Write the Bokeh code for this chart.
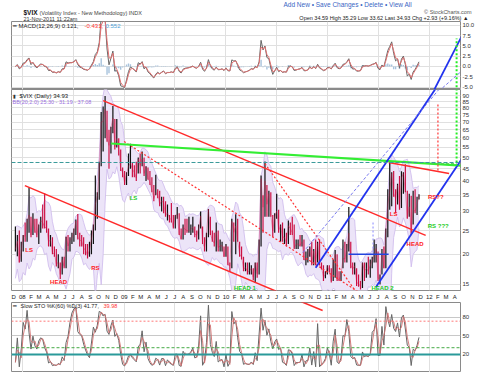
import numpy as np
import pandas as pd
from bokeh.plotting import figure
from bokeh.layouts import column
from bokeh.models import Range1d, FixedTicker, Label, Span, Grid
from bokeh.embed import file_html
from bokeh.resources import INLINE

# ---------------- weekly $VIX values (week ending Fridays) ----------------
first_week = "2007-12-07"
vix_high = [
    26.0, 24.0, 25.0, 22.5,
    24.0, 27.0, 28.0, 37.6, 28.5, 29.5, 28.0, 28.0, 26.5, 28.5, 32.0, 35.6, 27.5, 25.5, 24.0, 23.5, 21.5, 21.0, 20.0, 18.5,
    19.5, 19.5, 23.6, 24.0, 23.5, 24.5, 25.5, 27.8, 29.3, 24.5, 24.0, 23.5, 22.0, 22.0, 22.5, 25.0, 26.5, 42.2, 36.0, 48.0,
    76.9, 81.2, 89.5, 78.0, 65.0, 67.0, 81.5, 72.0, 72.0, 60.0, 54.0, 45.5,
    44.0, 43.5, 52.0, 57.0, 47.5, 46.5, 48.0, 50.0, 52.0, 53.0, 50.0, 46.0, 45.5, 44.0, 41.5, 38.5, 42.5, 37.0, 36.5, 34.5,
    34.5, 33.0, 32.0, 29.0, 32.5, 29.0, 29.0, 31.3, 29.5, 25.5, 26.5, 28.0, 28.0, 28.5, 26.5, 28.5, 26.0, 25.0, 26.5, 30.0,
    26.0, 23.5, 24.5, 30.7, 28.5, 25.0, 24.5, 27.0, 25.0, 23.0, 22.5, 21.5,
    22.0, 21.5, 18.5, 28.0, 27.0, 29.2, 28.0, 22.5, 21.5, 19.5, 18.5, 18.5, 18.5, 18.0, 17.5, 18.5, 18.5, 23.0, 42.2, 35.0,
    48.2, 38.5, 36.5, 36.0, 29.0, 29.5, 35.5, 30.5, 26.5, 27.0, 25.5, 24.5, 27.5, 27.0, 28.5, 26.5, 23.0, 23.0, 24.0, 24.0,
    23.0, 20.5, 21.0, 21.5, 22.5, 21.0, 23.0, 22.5, 23.0, 18.5, 18.0, 17.0, 18.0,
    18.0, 17.5, 19.0, 20.8, 20.0, 17.0, 17.0, 23.0, 22.5, 22.0, 31.3, 22.5, 18.5, 18.5, 17.5, 16.5, 15.5, 18.5, 18.5, 18.5,
    19.5, 19.0, 19.5, 23.0, 22.0, 20.5, 16.5, 21.0, 21.5, 25.5, 37.0, 48.0, 43.5, 44.0, 37.0, 39.0, 42.0, 43.9, 43.5, 46.9,
    36.5, 35.5, 34.8, 36.5, 37.0, 34.5, 35.3,
]
vix_low = [
    20.5, 19.6, 18.5, 18.6,
    20.5, 22.5, 22.5, 24.5, 23.5, 24.0, 24.5, 23.5, 22.0, 24.5, 25.5, 25.5, 24.5, 21.5, 21.5, 20.0, 19.5, 17.8, 17.5, 15.8,
    16.5, 17.5, 17.5, 20.5, 20.5, 22.0, 22.5, 24.0, 23.0, 21.5, 21.5, 20.0, 19.8, 19.2, 19.5, 20.0, 22.0, 25.0, 28.0, 33.5,
    46.0, 53.0, 60.0, 58.0, 45.0, 52.0, 63.0, 54.0, 55.0, 51.0, 44.0, 41.5,
    38.5, 38.5, 42.0, 45.0, 41.5, 41.5, 40.0, 43.0, 43.0, 46.0, 42.0, 40.0, 40.5, 38.5, 36.0, 33.0, 35.0, 34.0, 31.5, 30.0,
    29.5, 28.5, 27.5, 27.0, 27.0, 25.5, 25.5, 28.0, 24.0, 23.0, 23.0, 24.0, 24.5, 24.5, 24.0, 24.5, 23.5, 22.5, 23.0, 25.5,
    22.0, 20.5, 20.5, 23.5, 24.0, 22.5, 21.5, 20.5, 20.5, 20.5, 20.5, 19.5,
    19.5, 18.0, 16.9, 17.5, 22.5, 20.0, 22.5, 19.5, 19.0, 17.0, 17.0, 16.5, 16.5, 16.5, 15.6, 15.2, 16.0, 16.5, 21.5, 24.5,
    28.5, 28.5, 28.5, 28.5, 23.5, 24.5, 28.0, 24.5, 22.5, 22.5, 22.0, 21.5, 22.0, 24.0, 24.0, 21.0, 21.0, 21.0, 21.5, 21.5,
    18.9, 18.0, 18.5, 19.5, 18.0, 18.0, 18.0, 18.5, 18.0, 17.3, 15.5, 15.9, 16.5,
    16.8, 15.3, 15.5, 16.0, 15.5, 15.5, 15.5, 17.5, 18.5, 18.5, 20.5, 17.5, 16.5, 16.5, 14.8, 14.7, 14.3, 14.5, 15.5, 16.0,
    16.5, 16.0, 17.5, 18.5, 18.5, 15.5, 15.0, 16.5, 17.5, 17.5, 23.5, 30.5, 31.5, 34.5, 29.5, 32.0, 30.5, 31.0, 35.5, 36.0,
    28.0, 28.5, 24.0, 26.5, 29.5, 29.0, 33.6,
]
vix_close = [
    20.9, 22.6, 18.5, 20.7,
    23.9, 23.7, 27.2, 29.0, 24.0, 28.0, 25.0, 24.0, 26.5, 27.5, 27.0, 25.8, 25.7, 22.5, 22.9, 20.3, 20.0, 18.2, 18.5, 16.5,
    19.0, 17.8, 23.6, 21.6, 22.8, 23.4, 24.9, 27.4, 23.5, 22.9, 22.6, 21.2, 20.7, 19.8, 20.7, 23.1, 25.7, 32.1, 34.7, 45.1,
    69.9, 70.3, 79.1, 59.9, 56.1, 66.3, 72.7, 55.3, 59.9, 54.3, 44.9, 43.4,
    39.2, 42.8, 46.1, 47.3, 44.8, 43.4, 41.2, 49.3, 46.4, 49.3, 43.0, 45.9, 41.0, 39.7, 36.5, 33.9, 35.8, 35.3, 32.1, 33.1,
    32.6, 28.9, 29.6, 28.2, 27.7, 25.9, 29.0, 29.0, 24.3, 23.1, 25.9, 25.3, 25.0, 25.0, 25.3, 25.9, 24.2, 23.9, 25.6, 28.7,
    22.2, 21.4, 24.2, 30.7, 24.2, 22.9, 22.2, 24.7, 21.3, 21.6, 21.7, 19.5,
    21.7, 18.1, 17.9, 27.3, 24.6, 26.1, 22.7, 20.0, 19.5, 17.4, 17.6, 17.0, 17.0, 17.5, 16.1, 18.4, 16.6, 22.0, 40.9, 31.2,
    40.1, 32.1, 35.5, 28.8, 24.9, 28.5, 30.1, 25.0, 26.2, 23.5, 23.5, 22.1, 26.2, 25.5, 24.5, 21.3, 22.0, 22.0, 21.7, 22.5,
    18.9, 19.0, 19.1, 21.2, 18.3, 20.6, 18.0, 22.2, 18.0, 17.6, 16.1, 16.5, 17.8,
    17.1, 15.5, 18.5, 20.0, 15.9, 15.7, 16.4, 19.2, 19.1, 21.2, 24.4, 18.0, 17.4, 17.9, 15.3, 15.1, 14.75, 18.4, 17.1, 17.4,
    17.1, 17.95, 18.9, 19.5, 21.1, 15.9, 15.95, 20.0, 17.5, 25.25, 32.0, 36.4, 43.0, 35.6, 33.9, 38.5, 31.0, 41.25, 42.96, 36.2,
    28.2, 31.3, 24.5, 30.5, 30.0, 32.0, 34.93,
]

# ---------------- axes / ticks ----------------
x_start, x_end = "2007-11-23", "2012-04-22"
macd_ticks = [-5.0, -2.5, 0.0, 2.5, 5.0, 7.5, 10.0]
macd_tick_labels = ["-5.0", "-2.5", "0.0", "2.5", "5.0", "7.5", "10.0"]
price_ticks = [15, 20, 25, 30, 35, 40, 45, 50, 55, 60, 65, 70, 75, 80, 85, 90]
sto_ticks = [20, 50, 80]
month_letters = "JFMAMJJASOND"

# ---------------- hand-drawn annotation lines (date, value) ----------------
red_lower_x = ["2008-01-10", "2010-12-14"];   red_lower_y = [38.3, 11.7]
red_lower_tail_x = ["2010-09-27", "2010-12-14"]; red_lower_tail_y = [105.9, 91.3]
red_upper_x = ["2008-10-17", "2011-12-19"];   red_upper_y = [85.8, 23.9]
red_neck_x = ["2011-08-08", "2012-03-12"];    red_neck_y = [47.7, 43.0]
green_neck_x = ["2008-11-14", "2012-06-10"];  green_neck_y = [57.1, 45.9]
red_dot1_x = ["2008-12-31", "2011-04-25"];    red_dot1_y = [58.2, 13.9]
red_dot2_x = ["2010-05-21", "2011-04-13"];    red_dot2_y = [47.2, 14.0]
blue_up_x = ["2010-11-19", "2012-02-12"];     blue_up_y = [17.6, 103.7]
blue_lo_x = ["2011-06-23", "2012-06-17"];     blue_lo_y = [14.6, 60.4]
blue_thin_x = ["2010-10-04", "2012-03-05"];   blue_thin_y = [20.3, 104.7]
blue_flat_x = ["2011-03-17", "2011-08-08"];   blue_flat_y = [20.0, 20.0]
blue_vert_x = ["2011-06-13", "2011-06-13"];   blue_vert_y = [27.0, 20.0]
red_vert_x = ["2012-02-01", "2012-02-01"];    red_vert_y = [82.6, 43.8]
green_vert_x = ["2012-04-08", "2012-04-08"];  green_vert_y = [103.7, 46.3]
green_flat_x = ["2012-01-07", "2012-04-08"];  green_flat_y = [47.2, 47.2]
macd_blue_x = ["2012-01-10", "2012-04-30"];   macd_blue_y = [-6.8, 7.8]
macd_thin_x = ["2012-02-04", "2012-05-10"];   macd_thin_y = [-6.0, -0.3]
macd_green_x = ["2012-04-08", "2012-04-08"];  macd_green_y = [-6.0, 6.8]
teal_level = 47.7
sto_red_level, sto_green_level, sto_teal_level = 74, 31, 20

# ---------------- text annotations ----------------
red_tags = ["LS", "HEAD", "RS", "LS", "HEAD", "RS??"]
red_tag_x = ["2008-01-25", "2008-05-10", "2008-09-19", "2011-08-26", "2011-11-11", "2012-01-24"]
red_tag_y = [20.9, 15.3, 17.5, 29.4, 22.1, 34.5]
green_tags = ["LS", "HEAD 1", "HEAD 2", "RS ???"]
green_tag_x = ["2009-02-03", "2010-03-10", "2011-07-17", "2012-02-02"]
green_tag_y = [34.2, 14.45, 14.45, 26.0]

FONT = "Liberation Sans"


def ms(d):
    return pd.Timestamp(d).value / 1e6


def msl(lst):
    return [ms(d) for d in lst]


n = min(len(vix_high), len(vix_low), len(vix_close))
dates = pd.date_range(first_week, periods=n, freq="W-FRI")
xs = np.array([ms(d) for d in dates])
hi = np.array(vix_high[:n], float)
lo = np.array(vix_low[:n], float)
cl = np.array(vix_close[:n], float)
prev = np.r_[cl[0], cl[:-1]]
bar_colors = ["#111111" if c >= p_ else "#cc1144" for c, p_ in zip(cl, prev)]

# Bollinger-style envelope (4 weeks ~ 20 days, 2 sd)
bb_up, bb_dn = [], []
for i in range(n):
    j = max(0, i - 3)
    w = np.r_[hi[j:i + 1], lo[j:i + 1], cl[j:i + 1]]
    m = cl[j:i + 1].mean()
    s = max(w.std(), 0.08 * m)
    bb_up.append(m + 2 * s)
    bb_dn.append(max(m - 2 * s, 9.0))

# MACD (12,26,9 days -> weeks)
cs = pd.Series(cl)
macd = cs.ewm(span=2.4, adjust=False).mean() - cs.ewm(span=5.2, adjust=False).mean()
signal = macd.ewm(span=1.8, adjust=False).mean()
hist = macd - signal

# Slow stochastic (60 days ~ 12 weeks)
hh = pd.Series(hi).rolling(12, min_periods=1).max()
ll = pd.Series(lo).rolling(12, min_periods=1).min()
k_fast = 100 * (cs - ll) / (hh - ll)
d_line = k_fast.rolling(2, min_periods=1).mean()

month_starts = pd.date_range("2007-12-01", "2012-04-01", freq="MS")
month_ticks = [ms(d) for d in month_starts]
month_labels = {}
for d, t in zip(month_starts, month_ticks):
    month_labels[t] = f"{d.year % 100:02d}" if d.month == 1 else month_letters[d.month - 1]
grid_ticks = [ms(d) for d in month_starts if d.month in (1, 7)]

xr = Range1d(ms(x_start), ms(x_end))
FW = 449
LEFT = 11
GRID = "#e0e0e0"


def base_fig(frame_h, yr, log=False, xaxis=None):
    p = figure(frame_width=FW, frame_height=frame_h, x_range=xr, y_range=yr,
               y_axis_type="log" if log else "linear",
               x_axis_location=xaxis, y_axis_location="right",
               output_backend="svg", toolbar_location=None,
               min_border_left=LEFT, min_border_right=0, min_border_top=0, min_border_bottom=0,
               outline_line_color="#8a8a8a", border_fill_color="white")
    if len(p.xgrid) == 0:
        p.add_layout(Grid(dimension=0, ticker=FixedTicker(ticks=grid_ticks), grid_line_color=GRID))
    else:
        p.xgrid.ticker = FixedTicker(ticks=grid_ticks)
        p.xgrid.grid_line_color = GRID
    p.ygrid.grid_line_color = GRID
    ax = p.yaxis[0]
    ax.axis_line_color = None
    ax.major_tick_line_color = None
    ax.minor_tick_line_color = None
    ax.major_tick_out = 0
    ax.major_tick_in = 0
    ax.minor_tick_out = 0
    ax.major_label_text_font = FONT
    ax.major_label_text_font_size = "6px"
    ax.major_label_standoff = 2
    ax.major_label_text_color = "#333333"
    return p


def text(p, x, y, txt, color="#222222", size="6px", bold=False, units="data", align="left",
         baseline="middle"):
    p.add_layout(Label(x=x, y=y, x_units=units, y_units=units, text=txt, text_color=color,
                       text_font=FONT, text_font_size=size,
                       text_font_style="bold" if bold else "normal",
                       text_align=align, text_baseline=baseline))


# ================= header strip =================
ph = figure(frame_width=480, frame_height=21, x_range=Range1d(0, 480), y_range=Range1d(21, 0),
            x_axis_location=None, y_axis_location=None, output_backend="svg", toolbar_location=None,
            min_border_left=0, min_border_right=0, min_border_top=0, min_border_bottom=0,
            outline_line_color=None, border_fill_color="white")
ph.xgrid.visible = False
ph.ygrid.visible = False
text(ph, 272, 4, "Add New • Save Changes • Delete • View All", "#3a66c4", "6.5px")
text(ph, 12, 12, "$VIX", "#111111", "6.5px", True)
text(ph, 28, 12, "(Volatility Index - New Methodology) INDX", "#444444", "5.5px")
text(ph, 12, 18, "21-Nov-2011 11:22am", "#333333", "5.5px")
text(ph, 460, 11, "© StockCharts.com", "#555555", "5.5px", False, "data", "right")
text(ph, 463, 17.5, "Open 34.59  High 35.29  Low 33.62  Last 34.93  Chg +2.93 (+9.16%) ▲",
     "#222222", "5.5px", False, "data", "right")

# ================= MACD panel =================
p1 = base_fig(68, Range1d(-5.6, 10.9))
p1.yaxis[0].ticker = FixedTicker(ticks=macd_ticks)
p1.yaxis[0].major_label_overrides = {float(t): s for t, s in zip(macd_ticks, macd_tick_labels)}
p1.vbar(x=xs, top=hist.values, bottom=0, width=5 * 86400000, color="#a6c2dc", line_color=None)
p1.line(xs, macd.values, line_color="#666666", line_width=1)
p1.line(xs, signal.values, line_color="#e07070", line_width=1)
p1.line(msl(macd_blue_x), macd_blue_y, line_color="#2233ee", line_width=1.8)
p1.line(msl(macd_thin_x), macd_thin_y, line_color="#7777ee", line_width=1, line_dash="3 2")
p1.line(msl(macd_green_x), macd_green_y, line_color="#22ee22", line_width=2, line_dash="2 2")
text(p1, 1, 64, "━", "#222222", "6px", False, "screen")
text(p1, 7, 64, "MACD(12,26,9) 0.121,", "#222222", "6px", False, "screen")
text(p1, 73, 64, "-0.431,", "#ff3333", "6px", False, "screen")
text(p1, 94, 64, "0.552", "#4fa3d8", "6px", False, "screen")

# ================= Price panel =================
p2 = base_fig(201, Range1d(14.17, 95.3), log=True, xaxis="below")
p2.yaxis[0].ticker = FixedTicker(ticks=price_ticks)
p2.yaxis[0].major_label_overrides = {float(t): str(t) for t in price_ticks}
p2.ygrid.ticker = FixedTicker(ticks=price_ticks)
xa = p2.xaxis[0]
xa.ticker = FixedTicker(ticks=month_ticks)
xa.major_label_overrides = month_labels
xa.axis_line_color = None
xa.major_tick_line_color = None
xa.minor_tick_line_color = None
xa.major_tick_out = 0
xa.major_tick_in = 0
xa.minor_tick_out = 0
xa.major_label_text_font = FONT
xa.major_label_text_font_size = "6px"
xa.major_label_standoff = 3
xa.major_label_text_color = "#222222"

p2.varea(x=xs, y1=bb_dn, y2=bb_up, fill_color="#ece4f8", fill_alpha=1)
p2.line(xs, bb_up, line_color="#cdb9ec", line_width=0.8)
p2.line(xs, bb_dn, line_color="#cdb9ec", line_width=0.8)
p2.segment(x0=xs, y0=lo, x1=xs, y1=hi, line_color=bar_colors, line_width=1.2)
p2.line(xs, cl, line_color="#cc1144", line_width=0.6, line_alpha=0.6)

p2.add_layout(Span(location=teal_level, dimension="width", line_color="#3a9a9a",
                   line_dash="4 2", line_width=1))
p2.line(msl(red_lower_x), red_lower_y, line_color="#ff2a2a", line_width=1.5)
p2.line(msl(red_upper_x), red_upper_y, line_color="#ff2a2a", line_width=1.5)
p2.line(msl(red_neck_x), red_neck_y, line_color="#ff2a2a", line_width=1.5)
p2.line(msl(red_dot1_x), red_dot1_y, line_color="#ff3333", line_width=1.2, line_dash="2 2")
p2.line(msl(red_dot2_x), red_dot2_y, line_color="#ff3333", line_width=1.2, line_dash="2 2")
p2.line(msl(green_neck_x), green_neck_y, line_color="#33ee33", line_width=2.2)
p2.line(msl(blue_up_x), blue_up_y, line_color="#2233ee", line_width=1.8)
p2.line(msl(blue_lo_x), blue_lo_y, line_color="#2233ee", line_width=1.8)
p2.line(msl(blue_thin_x), blue_thin_y, line_color="#7777ee", line_width=1, line_dash="3 2")
p2.line(msl(blue_flat_x), blue_flat_y, line_color="#2244dd", line_width=1.5)
p2.line(msl(blue_vert_x), blue_vert_y, line_color="#8888ff", line_width=1, line_dash="2 2")
p2.line(msl(red_vert_x), red_vert_y, line_color="#ff3333", line_width=1.2, line_dash="2 2")
p2.line(msl(green_vert_x), green_vert_y, line_color="#22ee22", line_width=2, line_dash="2 2")
p2.line(msl(green_flat_x), green_flat_y, line_color="#55cc55", line_width=1, line_dash="3 2")

for t, x, y in zip(red_tags, red_tag_x, red_tag_y):
    text(p2, ms(x), y, t, "#ff2020", "6px", True, "data", "center")
for t, x, y in zip(green_tags, green_tag_x, green_tag_y):
    text(p2, ms(x), y, t, "#22cc22", "6px", True, "data", "center")

text(p2, 1, 195, "▮", "#333333", "5px", False, "screen")
text(p2, 8, 195, "$VIX (Daily) 34.93", "#222222", "6px", False, "screen")
text(p2, 1, 189, "BB(20,2.0) 25.30 - 31.19 - 37.08", "#9b6fe0", "5.5px", False, "screen")

# ================= Slow stochastic panel =================
p3 = base_fig(70, Range1d(-9.2, 104.3))
p3.yaxis[0].ticker = FixedTicker(ticks=sto_ticks)
p3.ygrid.grid_line_color = "#c8c8c8"
p3.add_layout(Span(location=sto_red_level, dimension="width", line_color="#ff7777",
                   line_dash="2 2", line_width=1))
p3.add_layout(Span(location=sto_green_level, dimension="width", line_color="#44aa44",
                   line_dash="3 2", line_width=1))
p3.add_layout(Span(location=sto_teal_level, dimension="width", line_color="#2a9a9a",
                   line_width=2))
p3.line(xs, k_fast.values, line_color="#666666", line_width=1)
p3.line(xs, d_line.values, line_color="#d07070", line_width=1, line_alpha=0.9)
p3.line(msl(red_lower_tail_x), red_lower_tail_y, line_color="#ff2a2a", line_width=1.5)
text(p3, 1, 67, "━", "#222222", "6px", False, "screen")
text(p3, 9, 67, "Slow STO %K(60) %D(3) 41.77,", "#222222", "5.5px", False, "screen")
text(p3, 92, 67, "39.98", "#ff3333", "5.5px", False, "screen")

layout = column(ph, p1, p2, p3, spacing=0)
open("out.html", "w").write(file_html(layout, INLINE))
